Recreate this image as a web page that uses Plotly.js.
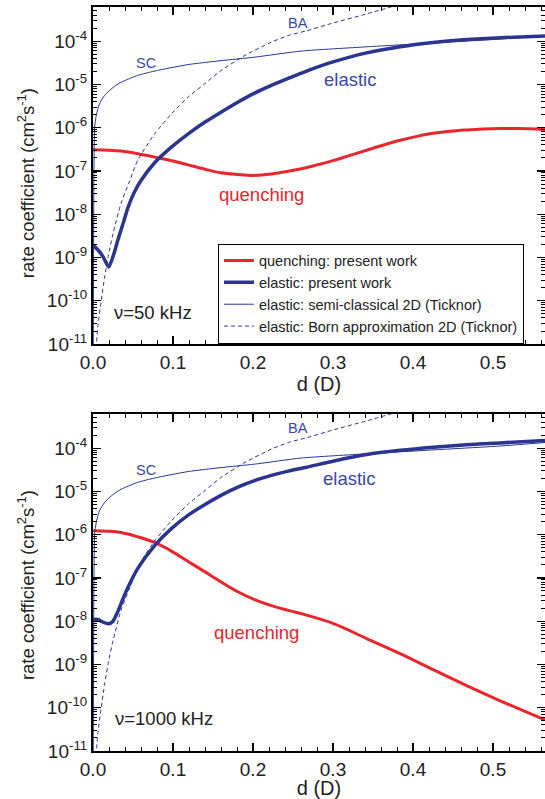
<!DOCTYPE html>
<html>
<head>
<meta charset="utf-8">
<script src="https://cdn.plot.ly/plotly-3.0.1.min.js"></script>
<style>html,body{margin:0;padding:0;background:#fff;}#chart{width:545px;height:799px;}</style>
</head>
<body>
<div id="chart"></div>
<script>
// ---- data (d in Debye, rate coefficient in cm^2 s^-1) ----
var q50X = [0, 0.02, 0.035, 0.056, 0.077, 0.1, 0.119, 0.14, 0.16, 0.181, 0.2, 0.223, 0.244, 0.265, 0.28, 0.3, 0.321, 0.342, 0.363, 0.384, 0.405, 0.425, 0.446, 0.467, 0.488, 0.509, 0.53, 0.565];
var q50Y = [3.09e-7, 3.02e-7, 2.88e-7, 2.51e-7, 2.09e-7, 1.70e-7, 1.38e-7, 1.10e-7, 9.1e-8, 8.3e-8, 7.9e-8, 8.5e-8, 9.8e-8, 1.17e-7, 1.38e-7, 1.74e-7, 2.29e-7, 3.02e-7, 3.98e-7, 5.13e-7, 6.3e-7, 7.41e-7, 8.32e-7, 8.91e-7, 9.33e-7, 9.55e-7, 9.55e-7, 9.12e-7];

var e50X = [0, 0.006, 0.0125, 0.0196, 0.025, 0.031, 0.0375, 0.044, 0.052, 0.06, 0.077, 0.098, 0.119, 0.14, 0.16, 0.181, 0.202, 0.223, 0.244, 0.267, 0.3, 0.342, 0.384, 0.425, 0.467, 0.509, 0.565];
var e50Y = [1.91e-9, 1.51e-9, 1.05e-9, 6.0e-10, 1.05e-9, 2.51e-9, 6.0e-9, 1.48e-8, 3.31e-8, 6.0e-8, 1.55e-7, 3.55e-7, 7.2e-7, 1.35e-6, 2.29e-6, 3.89e-6, 6.3e-6, 9.5e-6, 1.38e-5, 2.04e-5, 3.31e-5, 5.37e-5, 7.41e-5, 9.3e-5, 1.10e-4, 1.20e-4, 1.32e-4];

var q1000X = [0, 0.019, 0.035, 0.056, 0.077, 0.098, 0.119, 0.14, 0.16, 0.181, 0.202, 0.223, 0.244, 0.267, 0.3, 0.342, 0.384, 0.425, 0.467, 0.509, 0.565];
var q1000Y = [1.23e-6, 1.20e-6, 1.12e-6, 8.9e-7, 6.6e-7, 4.17e-7, 2.4e-7, 1.38e-7, 8.1e-8, 4.8e-8, 3.16e-8, 2.29e-8, 1.78e-8, 1.38e-8, 8.9e-9, 3.98e-9, 1.78e-9, 7.6e-10, 3.24e-10, 1.45e-10, 5.25e-11];

var e1000X = [0, 0.006, 0.0125, 0.0196, 0.025, 0.031, 0.0375, 0.046, 0.056, 0.077, 0.098, 0.119, 0.14, 0.16, 0.181, 0.202, 0.223, 0.244, 0.267, 0.3, 0.342, 0.384, 0.425, 0.467, 0.509, 0.565];
var e1000Y = [1.10e-8, 1.10e-8, 9.5e-9, 8.7e-9, 1.0e-8, 1.66e-8, 3.31e-8, 7.4e-8, 1.66e-7, 5.6e-7, 1.38e-6, 2.82e-6, 5.0e-6, 8.1e-6, 1.26e-5, 1.78e-5, 2.34e-5, 2.95e-5, 3.63e-5, 5.0e-5, 7.1e-5, 8.9e-5, 1.05e-4, 1.20e-4, 1.32e-4, 1.51e-4];

// Ticknor semi-classical (SC) and Born approximation (BA)
var scX = [0.0002, 0.001, 0.0015, 0.002, 0.004, 0.008, 0.0146, 0.025, 0.035, 0.056, 0.077, 0.119, 0.16, 0.202, 0.26, 0.342, 0.425, 0.509, 0.565];
var scY = [1e-12, 3.2e-8, 3.2e-7, 1.0e-6, 1.9e-6, 3.55e-6, 5.6e-6, 8.5e-6, 1.12e-5, 1.62e-5, 2.04e-5, 2.88e-5, 3.55e-5, 4.27e-5, 5.9e-5, 7.4e-5, 9.1e-5, 1.12e-4, 1.35e-4];

var baX = [0.004, 0.006, 0.0104, 0.0146, 0.019, 0.025, 0.035, 0.046, 0.056, 0.077, 0.098, 0.119, 0.14, 0.16, 0.19, 0.223, 0.244, 0.267, 0.3, 0.342, 0.38];
var baY = [7.9e-12, 2.5e-11, 1.05e-10, 3.55e-10, 1.05e-9, 3.55e-9, 1.78e-8, 6.0e-8, 1.78e-7, 7.2e-7, 2.09e-6, 5.1e-6, 1.05e-5, 2.09e-5, 4.7e-5, 9.5e-5, 1.35e-4, 1.74e-4, 2.63e-4, 4.27e-4, 6.8e-4];

var legendNames = ['quenching: present work', 'elastic: present work', 'elastic: semi-classical 2D (Ticknor)', 'elastic: Born approximation 2D (Ticknor)'];
var xTickVals = [0, 0.1, 0.2, 0.3, 0.4, 0.5];
var xTickText = ['0.0', '0.1', '0.2', '0.3', '0.4', '0.5'];
var yTickVals = [1e-11, 1e-10, 1e-9, 1e-8, 1e-7, 1e-6, 1e-5, 1e-4];
var yTickText = ['10<sup>-11</sup>', '10<sup>-10</sup>', '10<sup>-9</sup>', '10<sup>-8</sup>', '10<sup>-7</sup>', '10<sup>-6</sup>', '10<sup>-5</sup>', '10<sup>-4</sup>'];
var yTitle = 'rate coefficient (cm<sup>2</sup>s<sup>-1</sup>)';

// ---- styles ----
var RED = '#e8262d', BLUE = '#2b3590', TXTBLUE = '#3a47a3';
var FONT = 'Liberation Sans, Arial, Helvetica, sans-serif';

function traces(xa, ya, qx, qy, ex, ey, show) {
  return [
    {x: qx, y: qy, xaxis: xa, yaxis: ya, mode: 'lines', name: legendNames[0], showlegend: show,
     line: {color: RED, width: 3, shape: 'spline', smoothing: 1}},
    {x: ex, y: ey, xaxis: xa, yaxis: ya, mode: 'lines', name: legendNames[1], showlegend: show,
     line: {color: BLUE, width: 3.5, shape: 'spline', smoothing: 0.6}},
    {x: scX, y: scY, xaxis: xa, yaxis: ya, mode: 'lines', name: legendNames[2], showlegend: show,
     line: {color: BLUE, width: 1, shape: 'spline', smoothing: 0.6}},
    {x: baX, y: baY, xaxis: xa, yaxis: ya, mode: 'lines', name: legendNames[3], showlegend: show,
     line: {color: BLUE, width: 1, dash: '4px,3px', shape: 'spline', smoothing: 0.6}}
  ];
}

var data = traces('x', 'y', q50X, q50Y, e50X, e50Y, true)
  .concat(traces('x2', 'y2', q1000X, q1000Y, e1000X, e1000Y, false));

function xax(anchor) {
  return {
    anchor: anchor, domain: [0, 1], range: [0, 0.565],
    tickmode: 'array', tickvals: xTickVals, ticktext: xTickText,
    ticks: 'inside', ticklen: 8, tickwidth: 1.2, tickcolor: '#000',
    minor: {dtick: 0.02, tick0: 0, ticks: 'inside', ticklen: 4, tickwidth: 1, tickcolor: '#000'},
    showline: true, linewidth: 2, linecolor: '#000', mirror: 'allticks',
    showgrid: false, zeroline: false,
    tickfont: {family: FONT, size: 19, color: '#222'},
    title: {text: 'd (D)', font: {family: FONT, size: 20, color: '#222'}, standoff: 0},
    automargin: false
  };
}
function yax(anchor, dom) {
  return {
    anchor: anchor, domain: dom, type: 'log', range: [-11, -3.21],
    tickmode: 'array', tickvals: yTickVals, ticktext: yTickText,
    ticks: 'inside', ticklen: 8, tickwidth: 1.2, tickcolor: '#000',
    minor: {dtick: 'D1', ticks: 'inside', ticklen: 4, tickwidth: 1, tickcolor: '#000'},
    showline: true, linewidth: 2, linecolor: '#000', mirror: 'allticks',
    showgrid: false, zeroline: false,
    tickfont: {family: FONT, size: 19, color: '#222'},
    automargin: false
  };
}

function ann(xref, yref, x, y, text, color, size) {
  return {xref: xref, yref: yref, x: x, y: y, text: text, showarrow: false,
          font: {family: FONT, size: size, color: color}, xanchor: 'center', yanchor: 'middle'};
}
function ytitle(y) {
  return {xref: 'paper', yref: 'paper', x: -0.148, y: y, text: yTitle, showarrow: false, textangle: -90,
          font: {family: FONT, size: 18.5, color: '#222'}, xanchor: 'center', yanchor: 'middle'};
}

var layout = {
  width: 545, height: 799,
  margin: {l: 93, r: 0, t: 7, b: 48},
  paper_bgcolor: '#fff', plot_bgcolor: '#fff',
  font: {family: FONT, color: '#222'},
  xaxis: xax('y'), yaxis: yax('x', [0.547, 1]),
  xaxis2: xax('y2'), yaxis2: yax('x2', [0, 0.453]),
  showlegend: true,
  legend: {x: 0.2765, y: 0.682, xanchor: 'left', yanchor: 'top', xref: 'paper', yref: 'paper',
           bgcolor: '#fff', bordercolor: '#000', borderwidth: 1,
           font: {family: FONT, size: 14.5, color: '#222'}, tracegroupgap: 0, itemwidth: 30},
  annotations: [
    ytitle(0.7634), ytitle(0.2231),
    ann('x', 'y', 0.066, -4.51, 'SC', TXTBLUE, 14.5),
    ann('x', 'y', 0.256, -3.585, 'BA', TXTBLUE, 14.5),
    ann('x', 'y', 0.321, -4.877, 'elastic', TXTBLUE, 18.5),
    ann('x', 'y', 0.21, -7.555, 'quenching', RED, 18.5),
    ann('x', 'y', 0.075, -10.28, '\u03bd=50 kHz', '#222', 18.5),
    ann('x2', 'y2', 0.066, -4.515, 'SC', TXTBLUE, 14.5),
    ann('x2', 'y2', 0.256, -3.545, 'BA', TXTBLUE, 14.5),
    ann('x2', 'y2', 0.32, -4.70, 'elastic', TXTBLUE, 18.5),
    ann('x2', 'y2', 0.204, -8.254, 'quenching', RED, 18.5),
    ann('x2', 'y2', 0.089, -10.26, '\u03bd=1000 kHz', '#222', 18.5)
  ]
};

Plotly.newPlot('chart', data, layout, {displayModeBar: false, staticPlot: true});
</script>
</body>
</html>
